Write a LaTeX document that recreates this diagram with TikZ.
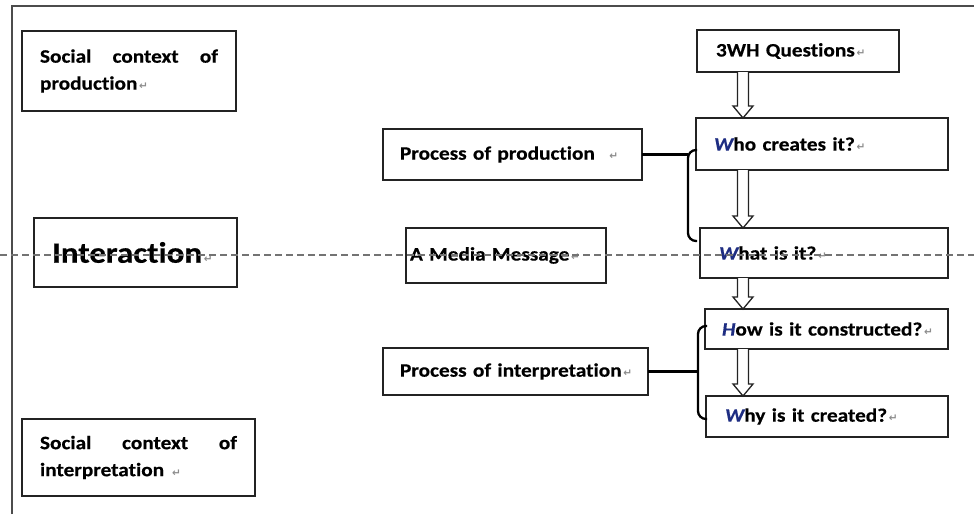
\documentclass[tikz,border=0pt]{standalone}
\usepackage{fontspec}
\setmainfont{Carlito}[FakeStretch=1.12, Ligatures=NoCommon,
  BoldFeatures={FakeBold=0.4}, BoldItalicFeatures={FakeBold=0.4}]
\newfontfamily\dejavu{DejaVu Sans}
\usetikzlibrary{calc}
\definecolor{qblue}{RGB}{30,45,130}
\definecolor{edge}{RGB}{35,35,35}
\newcommand\retmark{{\fontsize{10.5}{10}\dejavu\color{black!45}\,↵}}
\newcommand\qinit[1]{\textit{\color{qblue}#1}}
\newcommand\hollowarr[2]{%
  \draw[harrow] let \p1=(ax |- #1.south), \p2=(ax |- #2.north) in
    (\x1-5.5pt,\y1) -- (\x1-5.5pt,\y2+12pt) -- (\x1-10pt,\y2+12pt) -- (\x1,\y2)
    -- (\x1+10pt,\y2+12pt) -- (\x1+5.5pt,\y2+12pt) -- (\x1+5.5pt,\y1);}
\begin{document}
\begin{tikzpicture}[x=1pt,y=-1pt,
  box/.style={draw=edge, line width=1.5pt, anchor=north west, outer sep=0pt,
    align=left, inner ysep=0pt, font=\fontsize{19}{27}\selectfont\bfseries},
  harrow/.style={draw=edge, line width=1.3pt, fill=white},
  brk/.style={draw=black, line width=2.3pt},
  frameline/.style={draw=black!70, line width=1.6pt},
  midline/.style={draw=black!55, line width=1.2pt, dash pattern=on 7pt off 4pt}]
\useasboundingbox (0,0) rectangle (974,514);
\fill[white] (0,0) rectangle (974,514);
% frame
\coordinate (fbl) at (12,514);
\coordinate (ftl) at (12,6);
\coordinate (ftr) at (974,6);
\draw[frameline] (fbl) -- (ftl) -- (ftr);
% boxes
\node[box, inner xsep=18pt, text width=178pt, minimum height=80pt] (sp) at (22,31)
  {Social\hfill context\hfill of\\\mbox{production\retmark}};
\node[box, inner xsep=18pt, text width=197pt, minimum height=77pt] (si) at (22,419)
  {Social\hfill context\hfill of\\\mbox{interpretation \retmark}};
\node[box, inner xsep=18pt, text width=167pt, minimum height=69pt,
  font=\fontsize{29.5}{32}\selectfont\bfseries] (inter) at (34,218)
  {\mbox{Interaction\retmark}};
\node[box, inner xsep=17pt, text width=225pt, minimum height=51pt] (pp) at (383,129)
  {\mbox{Process of production \ \retmark}};
\node[box, inner xsep=4pt, text width=192pt, minimum height=55pt] (amm) at (406,228)
  {\mbox{A Media Message\retmark}};
\node[box, inner xsep=17pt, text width=231pt, minimum height=47pt] (pi) at (383,348)
  {\mbox{Process of interpretation\retmark}};
\node[box, inner xsep=19pt, text width=164pt, minimum height=42pt] (q3) at (697,30)
  {\mbox{3WH Questions\retmark}};
\node[box, inner xsep=18pt, text width=216pt, minimum height=52pt] (who) at (696,118)
  {\mbox{\qinit{W}ho creates it?\retmark}};
\node[box, inner xsep=19pt, text width=210pt, minimum height=50pt] (what) at (700,228)
  {\mbox{\qinit{W}hat is it?\retmark}};
\node[box, inner xsep=17pt, text width=209pt, minimum height=40pt] (how) at (705,309)
  {\mbox{\qinit{H}ow is it constructed?\retmark}};
\node[box, inner xsep=19pt, text width=204pt, minimum height=41pt] (why) at (706,396)
  {\mbox{\qinit{W}hy is it created?\retmark}};
% hollow arrows
\coordinate (ax) at (743,0);
\hollowarr{q3}{who}
\hollowarr{who}{what}
\hollowarr{what}{how}
\hollowarr{how}{why}
% brackets
\coordinate (b1v) at (688,0);
\coordinate (b1t) at (697,150);
\coordinate (b1b) at (697,241);
\draw[brk, rounded corners=8pt] (b1t) -- (b1t -| b1v) -- (b1b -| b1v) -- (b1b);
\draw[brk] (pp.east) -- (pp.east -| b1v);
\coordinate (b2v) at (698,0);
\coordinate (b2t) at (707,326);
\coordinate (b2b) at (707,419);
\draw[brk, rounded corners=8pt] (b2t) -- (b2t -| b2v) -- (b2b -| b2v) -- (b2b);
\draw[brk] (pi.east) -- (pi.east -| b2v);
% dashed middle line
\coordinate (dl) at (0,255);
\coordinate (dr) at (974,255);
\draw[midline] (dl) -- (dr);
\end{tikzpicture}
\end{document}
